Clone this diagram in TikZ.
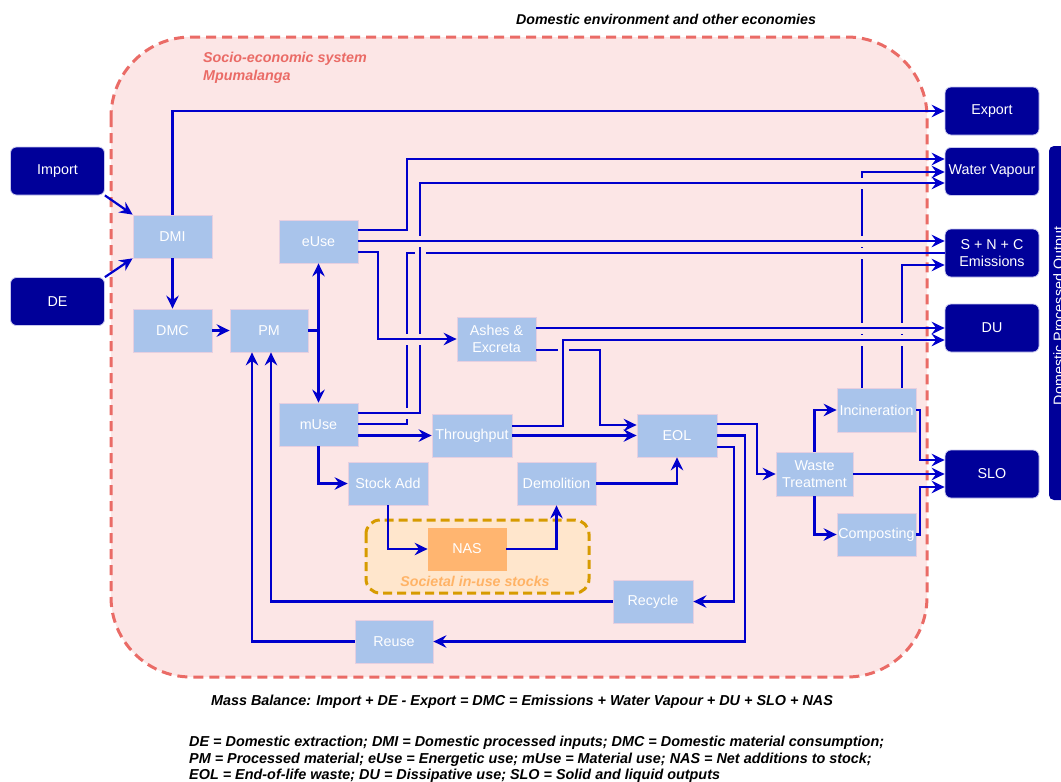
\documentclass[tikz,border=0pt]{standalone}
\usepackage{fontspec}
\setmainfont{Liberation Sans}
\usetikzlibrary{arrows.meta}
\definecolor{navy}{HTML}{000099}
\definecolor{lblue}{HTML}{A9C4EB}
\definecolor{flowc}{HTML}{0000CC}
\definecolor{pinkbg}{HTML}{FCE6E6}
\definecolor{redd}{HTML}{EA6B66}
\definecolor{orbg}{HTML}{FFE6CC}
\definecolor{ordash}{HTML}{D79B00}
\definecolor{nasc}{HTML}{FFB570}
\definecolor{ortext}{HTML}{FFB366}
\definecolor{lbord}{HTML}{E6CFE0}
\definecolor{dbord}{HTML}{C8C8EE}
\newcommand\vgap[2]{\fill[pinkbg] (#1-2.8,#2-5.5) rectangle (#1+2.8,#2+5.5);}
\newcommand\hgap[2]{\fill[pinkbg] (#1-5.5,#2-2.8) rectangle (#1+5.5,#2+2.8);}
\begin{document}
\begin{tikzpicture}[x=1pt,y=-1pt,
  lb/.style={fill=lblue, draw=lbord, line width=0.8pt, text=white, font=\fontsize{14.3}{16.5}\selectfont, align=center, inner sep=0pt},
  db/.style={fill=navy, draw=dbord, line width=0.8pt, rounded corners=6pt, text=white, font=\fontsize{14.3}{16.5}\selectfont, align=center, inner sep=0pt, minimum width=94pt, minimum height=48pt},
  tip/.tip={Stealth[length=13pt,width=12.5pt,inset=4.5pt]},
  flow/.style={draw=flowc, line width=2.2pt, -tip},
  flowline/.style={draw=flowc, line width=2.2pt},
  biflow/.style={draw=flowc, line width=2.2pt, tip-tip},
  bitalic/.style={font=\fontsize{14.4}{16.6}\selectfont\bfseries\itshape},
]
\useasboundingbox (0,0) rectangle (1061,782);
\fill[white] (0,0) rectangle (1061,782);

% system boundary
\draw[fill=pinkbg, draw=redd, line width=3pt, dash pattern=on 10pt off 6pt, rounded corners=80pt] (111,37) rectangle (927,677);
\node[text=redd, anchor=north west, align=left, inner sep=0pt, font=\fontsize{14.3}{18}\selectfont\bfseries\itshape] (sys) at (203,52) {Socio-economic system\\Mpumalanga};
\node[font=\fontsize{14.2}{16}\selectfont\bfseries\itshape] (title) at (666,19) {Domestic environment and other economies};

% societal stocks
\draw[fill=orbg, draw=ordash, line width=3pt, dash pattern=on 9pt off 5pt, rounded corners=14pt] (366,520) rectangle (589,593);
\node[text=ortext, font=\fontsize{14.2}{16}\selectfont\bfseries\itshape] (soclab) at (475,581) {Societal in-use stocks};

% DPO bar
\fill[navy, rounded corners=5pt] (1049,146) rectangle (1095,500);
\node[text=white, rotate=90, font=\fontsize{14.3}{16}\selectfont] (dpo) at (1060,316) {Domestic Processed Output};

% outer nodes
\node[db] (import) at (57.5,171) {Import};
\node[db] (de) at (57.5,301.5) {DE};
\node[db] (export) at (992,111) {Export};
\node[db] (wv) at (992,171.5) {Water Vapour};
\node[db] (em) at (992,253) {S + N + C\\Emissions};
\node[db] (du) at (992,328) {DU};
\node[db] (slo) at (992,474) {SLO};

% inner nodes
\node[lb, minimum width=79pt, minimum height=43pt] (dmi) at (172.5,236.5) {DMI};
\node[lb, minimum width=79pt, minimum height=43pt] (dmc) at (172.5,330.5) {DMC};
\node[lb, minimum width=78pt, minimum height=43pt] (pm) at (269,330.5) {PM};
\node[lb, minimum width=79pt, minimum height=43pt] (euse) at (318.5,241.5) {eUse};
\node[lb, minimum width=79pt, minimum height=43pt] (muse) at (318.5,424.5) {mUse};
\node[lb, minimum width=79pt, minimum height=44pt] (ashes) at (496.5,339) {Ashes \&\\Excreta};
\node[lb, minimum width=80pt, minimum height=43pt] (thru) at (472,435.5) {Throughput};
\node[lb, minimum width=80pt, minimum height=43pt] (eol) at (677,435.5) {EOL};
\node[lb, minimum width=80pt, minimum height=43pt] (stock) at (388,483.5) {Stock Add};
\node[lb, minimum width=79pt, minimum height=43pt] (demol) at (556.5,483.5) {Demolition};
\node[lb, fill=nasc, draw=nasc, minimum width=78pt, minimum height=42pt] (nas) at (467,549) {NAS};
\node[lb, minimum width=80pt, minimum height=43pt] (recycle) at (653,601.5) {Recycle};
\node[lb, minimum width=78pt, minimum height=43pt] (reuse) at (394,641.5) {Reuse};
\node[lb, minimum width=77pt, minimum height=44pt] (wt) at (814.5,474) {Waste\\Treatment};
\node[lb, minimum width=79pt, minimum height=44pt] (incin) at (876.5,410) {Incineration};
\node[lb, minimum width=79pt, minimum height=43pt] (comp) at (876.5,534.5) {Composting};

% layer 1: incineration to air
\draw[flow] (incin.north -| 862,0) |- (wv.west |- 0,172);
\draw[flow] (incin.north -| 902,0) |- (em.west |- 0,265);
\vgap{862}{183}\vgap{862}{241}\vgap{862}{253}\vgap{862}{328}\vgap{862}{340}
\vgap{902}{328}\vgap{902}{340}

% layer 2: mUse -> emissions
\draw[flowline] (muse.east |- 0,424) -- (407,424) |- (em.west |- 0,253);
\vgap{407}{339}\vgap{407}{413}\hgap{420}{253}

% layer 3: mUse -> water vapour
\draw[flow] (muse.east |- 0,413) -- (420,413) |- (wv.west |- 0,183);
\vgap{420}{241}\vgap{420}{339}

% layer 4: ashes -> EOL
\draw[flow] (ashes.east |- 0,350) -- (600,350) |- (eol.west |- 0,425);
\hgap{563}{350}

% remaining flows
\draw[flow] (import.south east) -- (dmi.north west);
\draw[flow] (de.north east) -- (dmi.south west);
\draw[flow] (dmi.south) -- (dmc.north);
\draw[flow] (dmi.north) |- (export.west);
\draw[flow] (dmc.east) -- (pm.west);
\draw[flowline] (pm.east) -- (pm.east -| euse.south);
\draw[biflow] (euse.south) -- (muse.north);

\draw[flow] (euse.east |- 0,230) -- (407,230) |- (wv.west |- 0,159);
\draw[flow] (euse.east |- 0,241) -- (em.west |- 0,241);
\draw[flow] (euse.east |- 0,252) -- (378,252) |- (ashes.west);

\draw[flow] (muse.east |- thru.west) -- (thru.west);
\draw[flow] (muse.south) |- (stock.west);
\draw[flow] (stock.south) |- (nas.west);
\draw[flow] (nas.east) -| (demol.south);
\draw[flow] (demol.east) -| (eol.south);

\draw[flow] (thru.east |- 0,426) -- (563,426) |- (du.west |- 0,340);
\draw[flow] (thru.east) -- (eol.west);
\draw[flow] (ashes.east |- 0,328) -- (du.west |- 0,328);

\draw[flow] (eol.east |- 0,424) -- (757,424) |- (wt.west);
\draw[flow] (eol.east |- 0,435.5) -- (745,435.5) |- (reuse.east);
\draw[flow] (eol.east |- 0,447) -- (734,447) |- (recycle.east);
\draw[flow] (recycle.west) -| (pm.south -| 271,0);
\draw[flow] (reuse.west) -| (pm.south -| 252,0);

\draw[flow] (wt.north) |- (incin.west);
\draw[flow] (wt.east) -- (slo.west);
\draw[flow] (wt.south) |- (comp.west);
\draw[flow] (incin.east) -- (920,410) |- (slo.west |- 0,460);
\draw[flow] (comp.east) -- (920,534.5) |- (slo.west |- 0,487);

% texts below
\node[bitalic] (mass) at (522,702) {Mass Balance: Import + DE - Export = DMC = Emissions + Water Vapour + DU + SLO + NAS};
\node[bitalic, anchor=north west, align=left, inner sep=0pt] (legend) at (189,736) {DE = Domestic extraction; DMI = Domestic processed inputs; DMC = Domestic material consumption;\\PM = Processed material; eUse = Energetic use; mUse = Material use; NAS = Net additions to stock;\\EOL = End-of-life waste; DU = Dissipative use; SLO = Solid and liquid outputs};
\end{tikzpicture}
\end{document}
